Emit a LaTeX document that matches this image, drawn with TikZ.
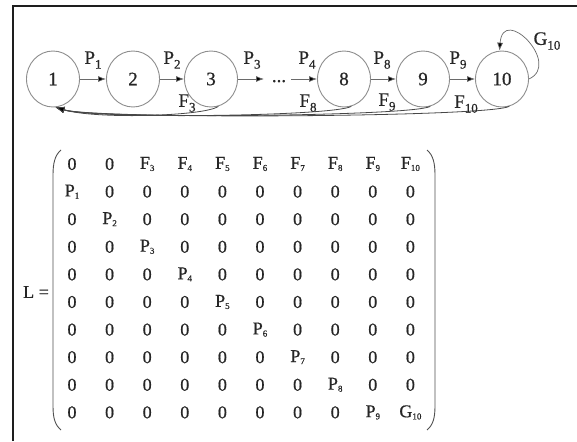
\documentclass[tikz,border=0pt]{standalone}
\usepackage{fontspec}
\setmainfont{Liberation Serif}[FakeBold=0.7]
\usetikzlibrary{arrows.meta,shapes.geometric}
\definecolor{ink}{HTML}{262626}
\definecolor{ring}{HTML}{8E8E8E}
\definecolor{wire}{HTML}{6A6A6A}
\definecolor{frameink}{HTML}{1E1E1E}
% small lowered index used inside the matrix
\newcommand\msub[1]{\raisebox{-0.12em}{\fontsize{9}{9}\selectfont #1}}
\newcommand\gsub[1]{\raisebox{-0.25em}{\fontsize{13}{13}\selectfont #1}}
\begin{document}
\begin{tikzpicture}[x=1pt,y=1pt,
  state/.style={ellipse,draw=ring,line width=0.9pt,minimum width=53pt,minimum height=56pt,
    inner sep=0pt,text=ink,font=\fontsize{19}{19}\selectfont},
  lbl/.style={text=ink,inner sep=0pt,font=\fontsize{19}{19}\selectfont},
  flow/.style={draw=wire,line width=0.7pt,-{Latex[length=8pt,width=6pt,fill=black]}},
  back/.style={draw=ink!85,line width=0.8pt,-{Latex[length=9pt,width=6.5pt,fill=black]}},
  mcell/.style={text=ink,inner sep=0pt,font=\fontsize{18}{18}\selectfont},
  paren/.style={draw=ink!80,line width=0.9pt}]
\useasboundingbox (0,0) rectangle (577,-441);
\fill[white] (0,0) rectangle (577,-441);
% frame
\draw[frameink,line width=2pt] (13,-441) -- (13,-6) -- (577,-6);

% states
\node[state] (n1)  at (53,-79)  {1};
\node[state] (n2)  at (133,-79) {2};
\node[state] (n3)  at (211,-79) {3};
\node[state] (n8)  at (344,-79) {8};
\node[state] (n9)  at (423,-79) {9};
\node[state] (n10) at (502,-79) {10};

% forward transitions
\coordinate (d1) at (264,-79);
\coordinate (d2) at (291,-79);
\node[lbl,anchor=base] (dots) at (279,-82) {...};
\draw[flow] (n1) -- (n2);
\draw[flow] (n2) -- (n3);
\draw[flow] (n3) -- (d1);
\draw[flow] (d2) -- (n8);
\draw[flow] (n8) -- (n9);
\draw[flow] (n9) -- (n10);

\node[lbl] (p1) at (93,-60)  {P\gsub{1}};
\node[lbl] (p2) at (172,-60) {P\gsub{2}};
\node[lbl] (p3) at (252,-60) {P\gsub{3}};
\node[lbl] (p4) at (307,-60) {P\gsub{4}};
\node[lbl] (p8) at (382,-60) {P\gsub{8}};
\node[lbl] (p9) at (458,-60) {P\gsub{9}};

% returns to state 1
\draw[back] (n3.-75)  .. controls +(-14,-10) and +(40,-12) .. (n1.-85);
\draw[back] (n8.-75)  .. controls +(-18,-10) and +(40,-12) .. (n1.-85);
\draw[back] (n9.-75)  .. controls +(-18,-10) and +(40,-12) .. (n1.-85);
\draw[back] (n10.-75) .. controls +(-22,-11) and +(40,-12) .. (n1.-85);

\node[lbl] (f3)  at (187,-103) {F\gsub{3}};
\node[lbl] (f8)  at (308,-103) {F\gsub{8}};
\node[lbl] (f9)  at (387,-102) {F\gsub{9}};
\node[lbl] (f10) at (466,-104) {F\gsub{10}};

% self loop on state 10
\draw[flow] (n10.east) .. controls (562,-64) and (503,-4) .. (n10.95);
\node[lbl] (g10) at (547,-41) {G\gsub{10}};

% matrix L
\node[lbl,font=\fontsize{18}{18}\selectfont] (leq) at (36,-292) {L =};
\draw[paren] (61,-150) .. controls (55,-155) and (53,-163) .. (53,-175)
  -- (53,-406) .. controls (53,-418) and (55,-425) .. (61,-430);
\draw[paren] (427,-150) .. controls (433,-155) and (435,-163) .. (435,-175)
  -- (435,-406) .. controls (435,-418) and (433,-425) .. (427,-430);
\foreach \r in {1,...,10}{
  \foreach \c in {1,...,10}{
    \pgfmathtruncatemacro\pc{\r-1}
    \def\mtext{0}
    \ifnum\r=1 \ifnum\c>2 \def\mtext{F\msub{\c}}\fi\fi
    \ifnum\c=\pc \def\mtext{P\msub{\c}}\fi
    \ifnum\r=10 \ifnum\c=10 \def\mtext{G\msub{10}}\fi\fi
    \node[mcell] (m-\r-\c) at ({72+37.6*(\c-1)},{-164-27.6*(\r-1)}) {\mtext};
  }
}
\end{tikzpicture}
\end{document}
